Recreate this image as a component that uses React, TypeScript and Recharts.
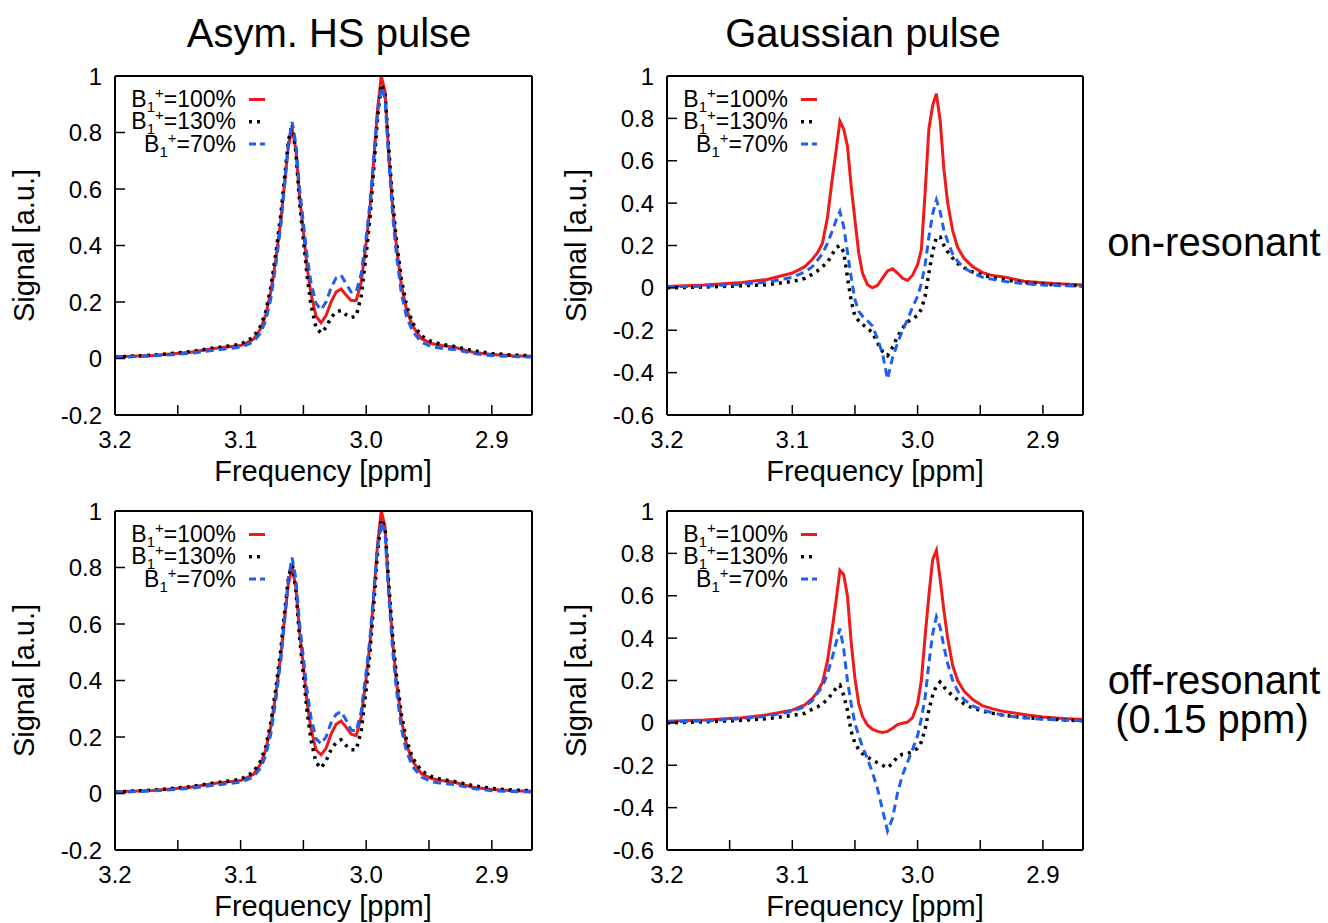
import { LineChart, Line, XAxis, YAxis } from 'recharts'

// chemical shift grid (ppm), shared by all four panels
const ppm = [
  3.2, 3.17, 3.14, 3.12, 3.1, 3.09, 3.084, 3.08, 3.076, 3.072, 3.068, 3.065, 3.062, 3.059, 3.056, 3.053,
  3.05, 3.047, 3.044, 3.04, 3.036, 3.032, 3.028, 3.024, 3.02, 3.016, 3.012, 3.008, 3.004, 3.0, 2.997,
  2.994, 2.991, 2.988, 2.985, 2.982, 2.979, 2.976, 2.972, 2.968, 2.963, 2.956, 2.948, 2.94, 2.93, 2.915,
  2.9, 2.884, 2.868,
]

// Asym. HS pulse, on-resonant
const hsOnRed = [
  0.006, 0.011, 0.022, 0.036, 0.046, 0.067, 0.105, 0.155, 0.235, 0.35, 0.49, 0.62, 0.75, 0.814, 0.74, 0.57,
  0.45, 0.32, 0.23, 0.15, 0.127, 0.152, 0.2, 0.235, 0.246, 0.225, 0.205, 0.205, 0.27, 0.41, 0.53,
  0.7, 0.88, 1.0, 0.944, 0.72, 0.54, 0.4, 0.26, 0.175, 0.114, 0.07, 0.053, 0.046, 0.04, 0.022,
  0.014, 0.01, 0.008,
]
const hsOnBlack = [
  0.005, 0.012, 0.024, 0.038, 0.05, 0.075, 0.115, 0.165, 0.25, 0.37, 0.51, 0.64, 0.77, 0.83, 0.73, 0.55,
  0.42, 0.29, 0.19, 0.11, 0.09, 0.11, 0.145, 0.165, 0.17, 0.155, 0.145, 0.15, 0.22, 0.37, 0.5,
  0.67, 0.85, 0.97, 0.94, 0.74, 0.56, 0.42, 0.28, 0.19, 0.125, 0.08, 0.06, 0.05, 0.043, 0.028,
  0.018, 0.012, 0.01,
]
const hsOnBlue = [
  0.004, 0.009, 0.018, 0.03, 0.04, 0.058, 0.09, 0.135, 0.21, 0.33, 0.47, 0.61, 0.76, 0.837, 0.76, 0.6,
  0.48, 0.36, 0.27, 0.195, 0.172, 0.2, 0.25, 0.285, 0.295, 0.265, 0.235, 0.235, 0.3, 0.43, 0.55,
  0.71, 0.87, 0.96, 0.92, 0.7, 0.51, 0.37, 0.23, 0.15, 0.095, 0.058, 0.042, 0.036, 0.032, 0.018,
  0.01, 0.007, 0.005,
]

// Asym. HS pulse, off-resonant
const hsOffRed = [
  0.006, 0.011, 0.022, 0.036, 0.046, 0.067, 0.105, 0.155, 0.235, 0.35, 0.49, 0.62, 0.74, 0.8, 0.73, 0.57,
  0.45, 0.32, 0.23, 0.155, 0.137, 0.16, 0.21, 0.245, 0.257, 0.235, 0.21, 0.205, 0.27, 0.41, 0.53,
  0.7, 0.88, 1.0, 0.944, 0.72, 0.54, 0.4, 0.26, 0.175, 0.114, 0.07, 0.053, 0.046, 0.04, 0.022,
  0.014, 0.01, 0.008,
]
const hsOffBlack = [
  0.005, 0.012, 0.024, 0.038, 0.05, 0.075, 0.115, 0.165, 0.25, 0.37, 0.51, 0.64, 0.76, 0.82, 0.72, 0.55,
  0.42, 0.29, 0.19, 0.11, 0.09, 0.115, 0.155, 0.18, 0.19, 0.17, 0.155, 0.155, 0.22, 0.37, 0.5,
  0.67, 0.85, 0.97, 0.94, 0.74, 0.56, 0.42, 0.28, 0.19, 0.125, 0.08, 0.06, 0.05, 0.043, 0.028,
  0.018, 0.012, 0.01,
]
const hsOffBlue = [
  0.004, 0.009, 0.018, 0.03, 0.04, 0.058, 0.09, 0.135, 0.21, 0.33, 0.47, 0.61, 0.76, 0.835, 0.76, 0.6,
  0.48, 0.36, 0.27, 0.195, 0.175, 0.2, 0.25, 0.28, 0.29, 0.26, 0.225, 0.22, 0.29, 0.43, 0.55,
  0.71, 0.87, 0.96, 0.92, 0.7, 0.51, 0.37, 0.23, 0.15, 0.095, 0.058, 0.042, 0.036, 0.032, 0.018,
  0.01, 0.007, 0.005,
]

// Gaussian pulse, on-resonant
const gaussOnRed = [
  0.007, 0.013, 0.025, 0.04, 0.07, 0.1, 0.135, 0.165, 0.21, 0.33, 0.52, 0.65, 0.787, 0.75, 0.67, 0.48,
  0.32, 0.165, 0.07, 0.015, 0.0, 0.012, 0.046, 0.08, 0.09, 0.07, 0.045, 0.035, 0.06, 0.11, 0.18,
  0.45, 0.75, 0.86, 0.917, 0.79, 0.56, 0.4, 0.27, 0.19, 0.14, 0.1, 0.072, 0.058, 0.05, 0.031,
  0.024, 0.018, 0.013,
]
const gaussOnBlack = [
  0.0, 0.004, 0.01, 0.015, 0.03, 0.045, 0.065, 0.08, 0.1, 0.12, 0.16, 0.19, 0.2, 0.17, 0.05, -0.06,
  -0.134, -0.155, -0.173, -0.19, -0.212, -0.26, -0.3, -0.32, -0.28, -0.23, -0.19, -0.16, -0.145, -0.13, -0.1,
  -0.04, 0.07, 0.17, 0.24, 0.24, 0.2, 0.17, 0.14, 0.115, 0.095, 0.075, 0.06, 0.048, 0.038, 0.025,
  0.018, 0.013, 0.01,
]
const gaussOnBlue = [
  0.005, 0.008, 0.018, 0.027, 0.05, 0.075, 0.1, 0.13, 0.16, 0.21, 0.27, 0.32, 0.36, 0.29, 0.17, 0.05,
  -0.056, -0.11, -0.134, -0.155, -0.18, -0.24, -0.31, -0.43, -0.33, -0.26, -0.2, -0.15, -0.09, -0.04, 0.02,
  0.11, 0.24, 0.35, 0.415, 0.36, 0.27, 0.22, 0.16, 0.125, 0.095, 0.07, 0.05, 0.04, 0.03, 0.02,
  0.014, 0.01, 0.007,
]

// Gaussian pulse, off-resonant (0.15 ppm)
const gaussOffRed = [
  0.008, 0.014, 0.024, 0.038, 0.06, 0.085, 0.115, 0.145, 0.19, 0.29, 0.45, 0.58, 0.72, 0.7, 0.6, 0.38,
  0.21, 0.091, 0.03, -0.01, -0.031, -0.04, -0.045, -0.04, -0.025, -0.008, -0.002, 0.004, 0.025, 0.09, 0.2,
  0.41, 0.6, 0.77, 0.814, 0.68, 0.53, 0.4, 0.27, 0.2, 0.15, 0.11, 0.08, 0.066, 0.052, 0.04,
  0.028, 0.021, 0.016,
]
const gaussOffBlack = [
  0.0, 0.005, 0.012, 0.02, 0.035, 0.045, 0.065, 0.075, 0.09, 0.11, 0.14, 0.165, 0.178, 0.13, 0.06, -0.04,
  -0.097, -0.125, -0.145, -0.162, -0.176, -0.188, -0.2, -0.212, -0.19, -0.16, -0.148, -0.145, -0.135, -0.12, -0.09,
  -0.03, 0.06, 0.13, 0.175, 0.193, 0.17, 0.15, 0.128, 0.11, 0.09, 0.07, 0.055, 0.045, 0.035, 0.025,
  0.02, 0.014, 0.01,
]
const gaussOffBlue = [
  0.005, 0.009, 0.02, 0.032, 0.055, 0.077, 0.105, 0.14, 0.17, 0.23, 0.31, 0.38, 0.445, 0.35, 0.2, 0.09,
  -0.003, -0.06, -0.113, -0.17, -0.235, -0.31, -0.41, -0.51, -0.45, -0.33, -0.245, -0.185, -0.125, -0.06, 0.02,
  0.12, 0.28, 0.42, 0.5, 0.45, 0.36, 0.28, 0.2, 0.15, 0.11, 0.08, 0.06, 0.048, 0.034, 0.024,
  0.017, 0.013, 0.01,
]

const xTicks = [3.2, 3.15, 3.1, 3.05, 3.0, 2.95, 2.9]
const hsTicks = [-0.2, 0, 0.2, 0.4, 0.6, 0.8, 1]
const gaussTicks = [-0.6, -0.4, -0.2, 0, 0.2, 0.4, 0.6, 0.8, 1]
const legendLabels = ['100%', '130%', '70%']

const FONT = '"Liberation Sans", Arial, Helvetica, sans-serif'
const RED = '#f01a1a'
const BLUE = '#1f5fef'
const X_DOMAIN: [number, number] = [2.868, 3.2]

const fmtX = (v: number) => (Math.abs(v * 10 - Math.round(v * 10)) < 1e-6 ? v.toFixed(1) : '')

type PanelProps = {
  left: number
  top: number
  width: number
  yWidth: number
  yDomain: [number, number]
  yTicks: number[]
  red: number[]
  black: number[]
  blue: number[]
}

function Panel({ left, top, width, yWidth, yDomain, yTicks, red, black, blue }: PanelProps) {
  const data = ppm.map((x, i) => ({ x, red: red[i], black: black[i], blue: blue[i] }))
  const tickStyle = { fontSize: 24, fill: '#000', fontFamily: FONT }
  return (
    <div style={{ position: 'absolute', left, top }}>
      <LineChart width={width} height={430} data={data} margin={{ top: 0, right: 0, bottom: 0, left: 0 }}>
        <XAxis
          xAxisId="b"
          dataKey="x"
          type="number"
          domain={X_DOMAIN}
          allowDataOverflow
          reversed
          ticks={xTicks}
          interval={0}
          tickFormatter={fmtX}
          height={75}
          tickSize={-10}
          tickMargin={26}
          tick={tickStyle}
          axisLine={{ stroke: '#000', strokeWidth: 2 }}
          tickLine={{ stroke: '#000', strokeWidth: 1.5 }}
        />
        <XAxis
          xAxisId="t"
          orientation="top"
          dataKey="x"
          type="number"
          domain={X_DOMAIN}
          allowDataOverflow
          reversed
          ticks={xTicks}
          interval={0}
          height={16}
          tickSize={-10}
          tick={false}
          axisLine={{ stroke: '#000', strokeWidth: 2 }}
          tickLine={{ stroke: '#000', strokeWidth: 1.5 }}
        />
        <YAxis
          yAxisId="l"
          type="number"
          domain={yDomain}
          allowDataOverflow
          ticks={yTicks}
          interval={0}
          width={yWidth}
          tickSize={-10}
          tickMargin={23}
          tick={tickStyle}
          axisLine={{ stroke: '#000', strokeWidth: 2 }}
          tickLine={{ stroke: '#000', strokeWidth: 1.5 }}
        />
        <YAxis
          yAxisId="r"
          orientation="right"
          type="number"
          domain={yDomain}
          allowDataOverflow
          ticks={yTicks}
          interval={0}
          width={13}
          tickSize={-10}
          tick={false}
          axisLine={{ stroke: '#000', strokeWidth: 2 }}
          tickLine={{ stroke: '#000', strokeWidth: 1.5 }}
        />
        <Line xAxisId="b" yAxisId="l" type="linear" dataKey="red" stroke={RED} strokeWidth={3} dot={false} isAnimationActive={false} />
        <Line xAxisId="b" yAxisId="l" type="linear" dataKey="black" stroke="#000" strokeWidth={3.5} strokeDasharray="3 5" dot={false} isAnimationActive={false} />
        <Line xAxisId="b" yAxisId="l" type="linear" dataKey="blue" stroke={BLUE} strokeWidth={3} strokeDasharray="8 5" dot={false} isAnimationActive={false} />
      </LineChart>
    </div>
  )
}

// legend block drawn in page coordinates, relative to a plot's top-left corner
function LegendBlock({ px, py }: { px: number; py: number }) {
  const styles = [
    { stroke: RED, dash: undefined, w: 3 },
    { stroke: '#000', dash: '3 5', w: 3.5 },
    { stroke: BLUE, dash: '7 4', w: 3 },
  ]
  return (
    <g>
      {legendLabels.map((lab, i) => {
        const ly = py + 23.5 + i * 22.3
        return (
          <g key={lab}>
            <text x={px + 121} y={ly + 7.5} textAnchor="end" fontSize={23} fontFamily={FONT} fill="#000">
              B<tspan fontSize={15} dy={5}>1</tspan>
              <tspan fontSize={15} dy={-14}>+</tspan>
              <tspan fontSize={23} dy={9}>={lab}</tspan>
            </text>
            <line x1={px + 134} x2={px + 150} y1={ly} y2={ly} stroke={styles[i].stroke} strokeWidth={styles[i].w} strokeDasharray={styles[i].dash} />
          </g>
        )
      })}
    </g>
  )
}

export default function App() {
  const plots = [
    { px: 115, py: 76 },
    { px: 667, py: 76 },
    { px: 115, py: 511 },
    { px: 667, py: 511 },
  ]
  return (
    <div style={{ position: 'absolute', left: 0, top: 0, width: 1328, height: 923, background: '#fff' }}>
      <Panel left={0} top={60} width={545} yWidth={115} yDomain={[-0.2, 1]} yTicks={hsTicks} red={hsOnRed} black={hsOnBlack} blue={hsOnBlue} />
      <Panel left={560} top={60} width={536} yWidth={107} yDomain={[-0.6, 1]} yTicks={gaussTicks} red={gaussOnRed} black={gaussOnBlack} blue={gaussOnBlue} />
      <Panel left={0} top={495} width={545} yWidth={115} yDomain={[-0.2, 1]} yTicks={hsTicks} red={hsOffRed} black={hsOffBlack} blue={hsOffBlue} />
      <Panel left={560} top={495} width={536} yWidth={107} yDomain={[-0.6, 1]} yTicks={gaussTicks} red={gaussOffRed} black={gaussOffBlack} blue={gaussOffBlue} />
      <svg width={1328} height={923} style={{ position: 'absolute', left: 0, top: 0, pointerEvents: 'none' }} fontFamily={FONT}>
        <text x={329} y={47} textAnchor="middle" fontSize={40}>Asym. HS pulse</text>
        <text x={863} y={47} textAnchor="middle" fontSize={40}>Gaussian pulse</text>
        <text x={1214} y={256} textAnchor="middle" fontSize={40}>on-resonant</text>
        <text x={1214} y={694} textAnchor="middle" fontSize={40}>off-resonant</text>
        <text x={1212} y={733} textAnchor="middle" fontSize={40}>(0.15 ppm)</text>
        {plots.map((p, i) => (
          <g key={i}>
            <text x={p.px + 208} y={p.py + 405} textAnchor="middle" fontSize={29}>Frequency [ppm]</text>
            <text
              transform={`translate(${i % 2 === 0 ? 24 : 576},${p.py + 169.5}) rotate(-90)`}
              textAnchor="middle"
              dominantBaseline="central"
              fontSize={29}
            >
              Signal [a.u.]
            </text>
            <LegendBlock px={p.px} py={p.py} />
          </g>
        ))}
      </svg>
    </div>
  )
}
